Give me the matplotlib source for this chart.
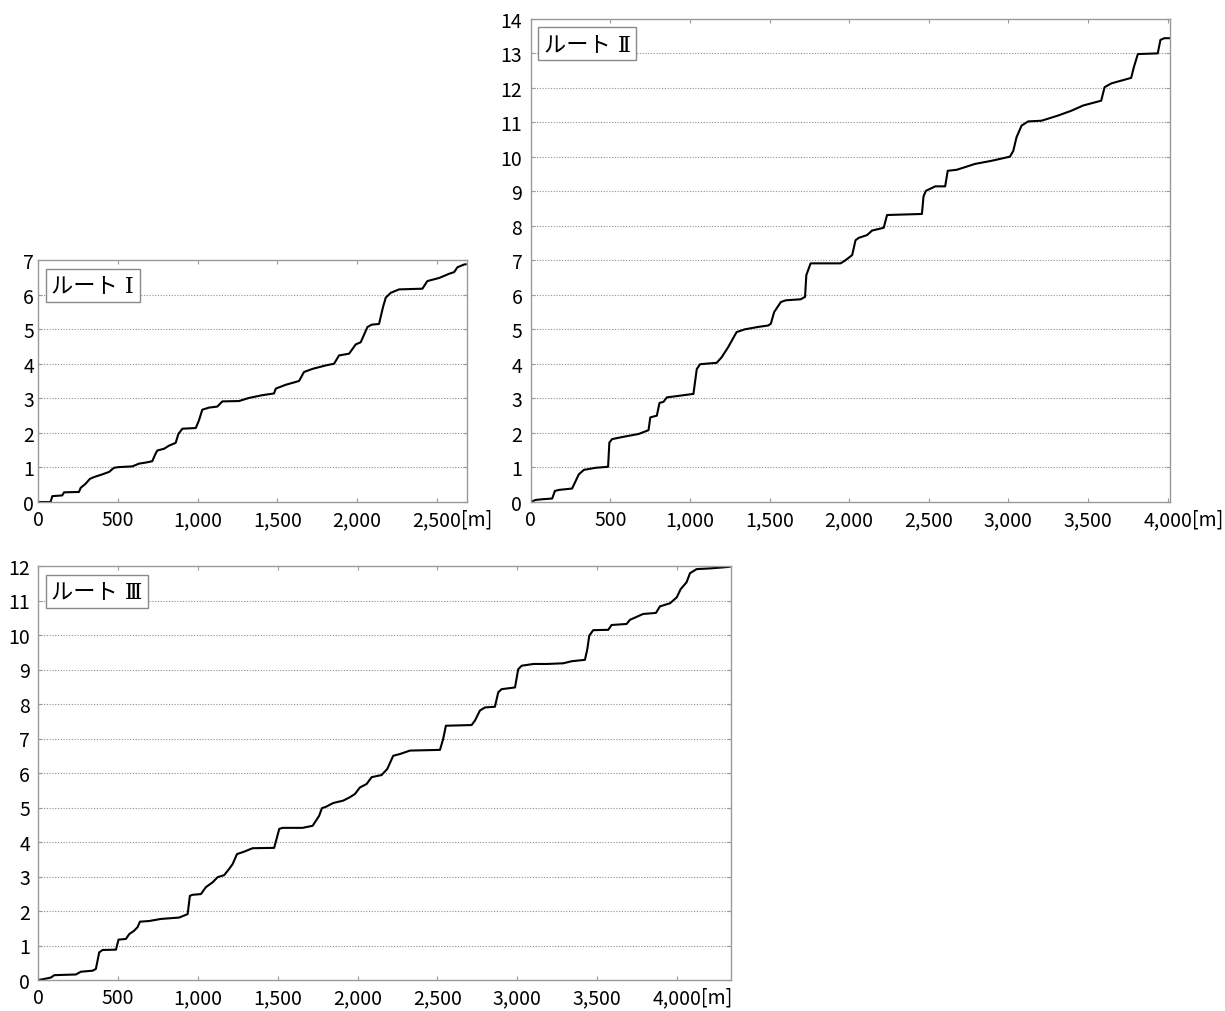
import matplotlib
matplotlib.use("Agg")
import matplotlib.pyplot as plt
from matplotlib.ticker import FuncFormatter
import numpy as np

plt.rcParams['font.family'] = ['Noto Sans CJK JP', 'DejaVu Sans']

# ---------------- data ----------------
route_labels = ["ルート Ⅰ", "ルート Ⅱ", "ルート Ⅲ"]

r1_x = [0, 77, 88, 150, 162, 255, 266, 297, 324, 349, 402, 444, 475, 506, 590, 632, 674, 715, 736, 747,
        789, 820, 862, 879, 904, 988, 1008, 1029, 1071, 1123, 1155, 1259, 1322, 1406, 1479, 1490, 1552, 1636,
        1667, 1720, 1803, 1856, 1887, 1950, 1992, 2023, 2065, 2092, 2138, 2163, 2180, 2211, 2264, 2410, 2441,
        2515, 2577, 2609, 2630, 2672, 2688]
r1_y = [0, 0, 0.17, 0.19, 0.28, 0.29, 0.41, 0.53, 0.67, 0.72, 0.80, 0.87, 0.99, 1.01, 1.03, 1.11, 1.14, 1.18,
        1.40, 1.49, 1.54, 1.63, 1.71, 1.97, 2.12, 2.14, 2.36, 2.67, 2.73, 2.76, 2.91, 2.92, 3.01, 3.09, 3.14,
        3.28, 3.39, 3.50, 3.76, 3.85, 3.95, 4.0, 4.24, 4.29, 4.56, 4.62, 5.06, 5.13, 5.15, 5.64, 5.91, 6.05,
        6.15, 6.17, 6.39, 6.48, 6.60, 6.65, 6.79, 6.87, 6.88]

r2_x = [0, 31, 73, 135, 152, 177, 260, 302, 334, 407, 486, 494, 511, 573, 678, 740, 751, 792, 809, 834, 855,
        907, 1022, 1043, 1064, 1168, 1199, 1241, 1293, 1345, 1429, 1491,
        1508, 1529, 1571, 1602, 1696, 1723, 1731, 1758, 1946, 1977, 2019, 2040, 2061, 2113, 2144, 2217, 2238,
        2457, 2467, 2482, 2541, 2603, 2619, 2676,
        2791, 2895, 3010, 3031, 3051, 3083, 3124, 3208, 3312, 3396, 3469, 3542, 3583, 3604, 3646, 3708, 3771,
        3788, 3813, 3938, 3955, 3980, 4015]
r2_y = [0, 0.06, 0.08, 0.10, 0.32, 0.35, 0.39, 0.80, 0.93, 0.99, 1.02, 1.72, 1.82, 1.88, 1.97, 2.08, 2.45,
        2.50, 2.87, 2.90, 3.03, 3.06, 3.13, 3.85, 3.99, 4.03, 4.19, 4.49, 4.92, 5.0, 5.07, 5.11,
        5.16, 5.50, 5.79, 5.84, 5.87, 5.94, 6.57, 6.91, 6.91, 7.0, 7.15, 7.58, 7.65, 7.73, 7.86, 7.94, 8.31,
        8.34, 8.85, 9.01, 9.14, 9.14, 9.59, 9.62,
        9.79, 9.88, 10.0, 10.17, 10.56, 10.90, 11.02, 11.04, 11.19, 11.33, 11.48, 11.57, 11.62, 12.01, 12.12,
        12.20, 12.28, 12.59, 12.97, 12.99, 13.38, 13.43, 13.43]

r3_x = [0, 36, 78, 99, 235, 266, 340, 360, 381, 402, 486, 502, 548, 569, 600, 621, 636, 694, 768, 882, 935,
        949, 966, 1018, 1049, 1091, 1123, 1164, 1195, 1217, 1244, 1289, 1342, 1477, 1509, 1530, 1655, 1718,
        1759, 1776, 1801,
        1847, 1910, 1952, 1983, 2014, 2056, 2088, 2150, 2186, 2223, 2265, 2328, 2516, 2536, 2553, 2714, 2735,
        2766, 2798, 2860, 2881, 2902, 2986, 3006, 3028, 3101, 3184, 3288,
        3341, 3424, 3439, 3451, 3476, 3570, 3591, 3685, 3706, 3789, 3869, 3894, 3957, 3999, 4024, 4061, 4082,
        4124, 4207, 4291, 4336]
r3_y = [0, 0.03, 0.07, 0.14, 0.16, 0.24, 0.27, 0.32, 0.80, 0.87, 0.88, 1.17, 1.19, 1.33, 1.43, 1.53, 1.69,
        1.71, 1.77, 1.81, 1.91, 2.44, 2.47, 2.49, 2.69, 2.83, 2.98, 3.04, 3.22, 3.36, 3.65, 3.72, 3.82, 3.83,
        4.38, 4.41, 4.41, 4.47, 4.76, 4.98, 5.02,
        5.13, 5.20, 5.30, 5.39, 5.58, 5.68, 5.88, 5.94, 6.12, 6.50, 6.55, 6.65, 6.67, 6.99, 7.37, 7.39, 7.52,
        7.81, 7.90, 7.92, 8.34, 8.43, 8.48, 9.01, 9.11, 9.16, 9.16, 9.18,
        9.24, 9.28, 9.59, 9.98, 10.14, 10.15, 10.29, 10.32, 10.44, 10.61, 10.64, 10.83, 10.92, 11.09, 11.33,
        11.53, 11.79, 11.91, 11.93, 11.96, 11.98]

x_max = [2688, 4015, 4336]
y_max = [7, 14, 12]
x_ticks = [[0, 500, 1000, 1500, 2000, 2500],
           [0, 500, 1000, 1500, 2000, 2500, 3000, 3500, 4000],
           [0, 500, 1000, 1500, 2000, 2500, 3000, 3500, 4000]]
unit_label = "[m]"

# ---------------- figure ----------------
W, H = 1225, 1012
fig = plt.figure(figsize=(W / 100, H / 100), dpi=100)
fig.patch.set_facecolor('white')

rects = [[38.3 / W, 1 - 503 / H, 428.4 / W, 242 / H],
         [530.7 / W, 1 - 503 / H, 639.3 / W, 483.5 / H],
         [38.4 / W, 1 - 981 / H, 692.1 / W, 414 / H]]
ypads = [3, 6, 6]

series = [(r1_x, r1_y), (r2_x, r2_y), (r3_x, r3_y)]
axes = []
for i, rect in enumerate(rects):
    ax = fig.add_axes(rect)
    xs, ys = series[i]
    ax.plot(xs, ys, color='black', lw=1.5, solid_capstyle='butt')
    ax.set_xlim(0, x_max[i])
    ax.set_ylim(0, y_max[i])
    ax.set_xticks(x_ticks[i])
    ax.set_yticks(range(0, y_max[i] + 1))
    ax.xaxis.set_major_formatter(FuncFormatter(lambda v, p: f"{int(v):,}"))
    for yv in range(1, y_max[i]):
        ax.axhline(yv, color='#8f8f8f', lw=0.8, linestyle=(0, (1, 1.5)), zorder=0)
    for s in ax.spines.values():
        s.set_color('#9a9a9a')
        s.set_linewidth(1.0)
    ax.tick_params(axis='both', direction='in', length=3, width=0.8, color='#9a9a9a',
                   labelsize=14, top=True, right=True)
    ax.tick_params(axis='x', pad=5)
    ax.tick_params(axis='y', pad=ypads[i])
    ax.annotate(route_labels[i], xy=(0, 1), xycoords='axes fraction',
                xytext=(9.3, -10.3), textcoords='offset points', ha='left', va='top',
                fontsize=16, family=['DejaVu Serif', 'Noto Sans CJK JP'],
                bbox=dict(boxstyle='square,pad=0.25', fc='white', ec='#8a8a8a', lw=1.0))
    axes.append(ax)

fig.canvas.draw()
renderer = fig.canvas.get_renderer()
for ax in axes:
    labs = [l for l in ax.get_xticklabels() if l.get_text()]
    lab = labs[-1]
    bb = lab.get_window_extent(renderer)
    fig.text(bb.x1 / W, bb.y0 / H, unit_label, ha='left', va='bottom', fontsize=14)

fig.savefig("out.png", dpi=100)
